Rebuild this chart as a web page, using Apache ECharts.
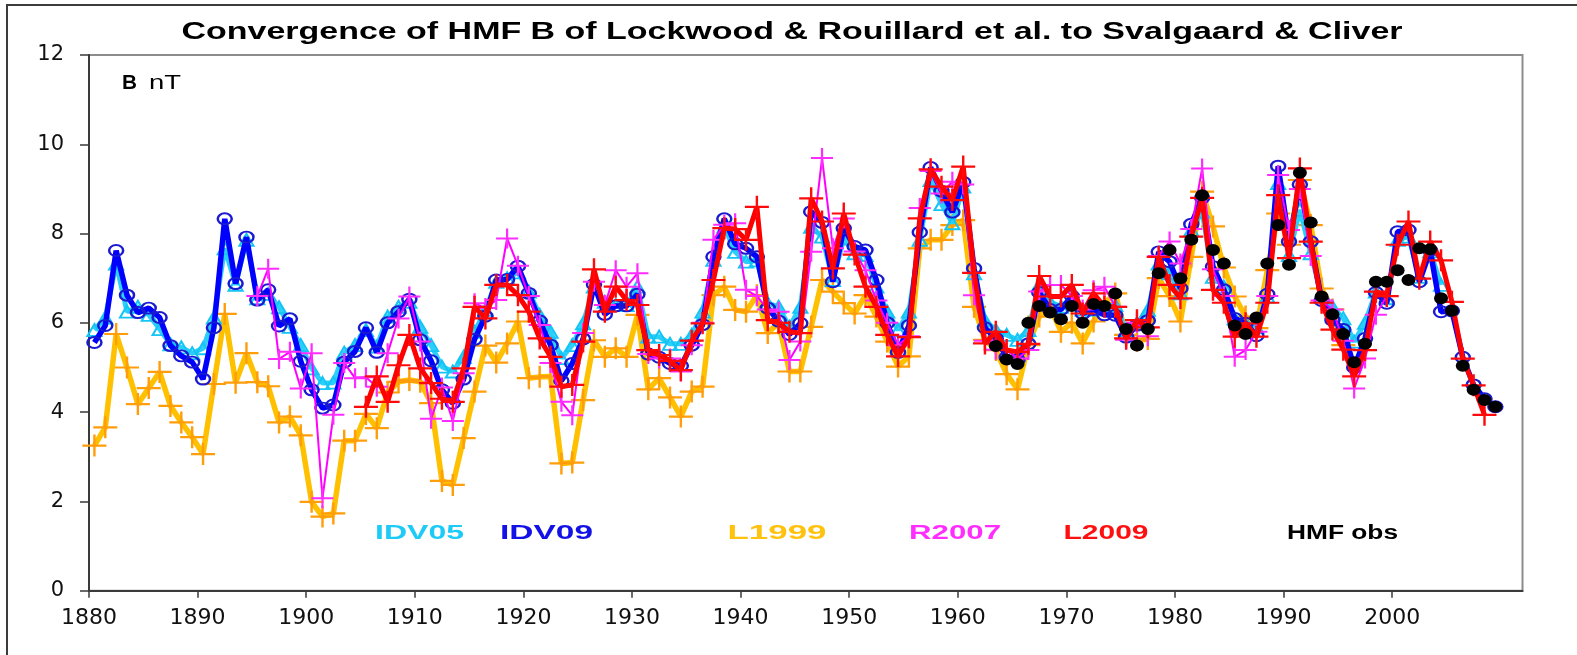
<!DOCTYPE html>
<html><head><meta charset="utf-8">
<script src="https://cdn.jsdelivr.net/npm/echarts@6/dist/echarts.min.js"></script>
<style>html,body{margin:0;padding:0;background:#fff;overflow:hidden}#c{width:1577px;height:655px}</style>
</head><body><div id="c"></div>
<script>
// ---- tick labels ----
const xTicks = [1880,1890,1900,1910,1920,1930,1940,1950,1960,1970,1980,1990,2000,2010];
const yTicks = [0,2,4,6,8,10,12];

// ---- series (annual means, plotted at mid-year) ----
const idv05Start = 1880;
const idv05 = [5.84,6.12,7.33,6.25,6.36,6.18,5.86,5.52,5.45,5.32,
  5.43,6.12,7.67,6.85,7.86,6.55,6.65,6.35,5.91,5.50,
  4.98,4.65,4.66,5.33,5.50,5.84,5.47,6.14,6.36,6.47,
  5.91,5.50,5.02,4.91,5.24,5.80,6.29,6.92,7.00,7.13,
  6.70,6.18,5.80,5.21,5.50,5.99,6.81,6.47,6.40,6.40,
  6.81,5.69,5.69,5.53,5.53,5.73,6.25,7.41,8.15,7.59,
  7.37,7.40,6.44,6.36,5.91,6.36,8.15,7.93,6.96,7.89,
  7.56,7.52,6.81,6.25,5.84,6.25,7.86,9.20,8.66,8.23,
  9.05,7.11,6.06,5.84,5.73,5.62,5.84,6.85,6.47,6.36,
  6.55,6.30,6.30,6.36,6.40,5.84,5.99,6.29,7.33,7.11,
  6.66,8.08,8.49,7.03,6.81,6.10,6.00,5.90,6.59,9.13,
  7.52,8.53,7.56,6.59,6.36,6.10,5.58,6.00,6.70,6.55,
  7.86,7.93,7.03,7.60,6.85];

const idv09Start = 1880;
const idv09 = [5.56,5.94,7.62,6.62,6.23,6.33,6.12,5.49,5.26,5.12,
  4.74,5.89,8.33,6.88,7.92,6.51,6.74,5.93,6.09,5.14,
  4.50,4.09,4.16,5.12,5.36,5.89,5.34,6.00,6.25,6.53,
  5.62,5.15,4.50,4.20,4.74,5.63,6.15,6.96,6.97,7.27,
  6.66,6.04,5.50,4.70,5.09,5.64,6.86,6.19,6.38,6.38,
  6.64,5.30,5.23,5.09,5.04,5.50,5.96,7.48,8.33,7.77,
  7.67,7.48,6.33,6.04,5.74,5.99,8.49,8.25,6.92,8.12,
  7.71,7.63,6.96,6.00,5.34,5.94,8.03,9.48,8.95,8.48,
  9.15,7.22,5.89,5.65,5.23,5.17,5.53,6.68,6.30,6.30,
  6.60,6.21,6.30,6.18,6.17,5.68,5.95,6.05,7.59,7.37,
  6.77,8.21,8.80,7.26,6.74,6.10,5.99,5.71,6.64,9.51,
  7.82,9.10,7.82,6.50,6.06,5.85,5.00,5.65,6.68,6.44,
  8.04,8.08,6.92,7.62,6.25,6.27,5.23,4.61,4.30,4.12];

const l1999Start = 1880;
const l1999 = [3.25,3.66,5.75,5.00,4.18,4.54,4.90,4.14,3.77,3.44,
  3.06,4.63,6.20,4.66,5.32,4.67,4.58,3.77,3.90,3.48,
  1.99,1.66,1.73,3.36,3.36,3.96,3.64,4.44,4.68,4.72,
  4.68,4.20,2.46,2.37,3.42,4.46,5.49,5.11,5.54,6.03,
  4.76,4.79,4.80,2.85,2.87,4.27,5.61,5.24,5.43,5.24,
  6.18,4.51,4.76,4.33,3.90,4.46,4.57,6.62,6.81,6.29,
  6.25,6.62,5.77,6.00,4.91,4.91,5.91,6.96,6.70,6.44,
  6.21,6.62,6.14,5.58,5.02,5.25,7.67,7.86,7.86,8.19,
  8.30,6.36,5.62,5.39,4.85,4.51,5.50,6.14,6.36,5.80,
  6.00,5.54,6.03,6.44,6.66,5.73,5.60,5.64,7.00,6.60,
  6.03,7.48,8.94,8.16,7.24,6.59,6.14,5.88,7.18,8.45,
  7.75,9.20,8.19,6.77,6.30,5.50];

const r2007Start = 1895;
const r2007 = [6.60,7.21,5.19,5.35,4.53,
  5.32,2.07,3.94,5.10,4.76,4.78,4.57,5.32,6.10,6.59,
  5.58,3.85,4.55,3.80,4.87,6.44,6.33,6.51,7.89,7.28,
  6.60,5.95,5.10,4.23,3.93,5.77,6.92,6.40,7.18,6.81,
  7.11,5.30,5.20,5.20,4.91,5.50,6.00,7.86,8.20,8.23,
  6.74,6.60,6.30,6.25,5.17,5.58,7.59,9.69,7.67,8.34,
  7.60,7.18,6.50,6.00,5.50,5.70,8.57,9.40,8.90,9.16,
  9.10,6.62,5.60,5.40,5.39,5.20,5.39,6.70,6.85,6.85,
  6.60,6.30,6.73,6.81,6.36,5.62,6.00,5.70,7.50,7.82,
  7.33,8.10,9.46,7.20,6.60,5.24,5.39,5.80,6.60,9.31,
  8.08,9.00,7.50,6.50,6.30,5.60,4.53,5.20,6.18,6.60];

const l2009Start = 1905;
const l2009 = [4.12,4.80,4.23,5.05,5.73,
  4.98,4.65,4.30,4.23,4.98,6.36,6.10,6.85,6.85,6.62,
  6.25,5.65,5.24,4.57,4.61,5.58,7.20,6.25,6.81,6.51,
  6.40,5.39,5.28,5.15,4.94,5.60,5.99,6.96,8.12,8.10,
  7.86,8.60,6.06,6.00,5.80,5.77,8.79,8.27,7.22,8.45,
  7.53,6.81,6.36,5.73,5.25,5.68,8.34,9.44,9.05,8.75,
  9.50,7.12,5.54,5.80,5.39,5.35,5.53,7.05,6.59,6.59,
  6.85,6.21,6.66,6.36,6.36,5.65,6.06,5.90,7.48,6.85,
  6.55,7.93,8.80,6.74,6.45,5.69,5.99,5.69,6.45,8.86,
  7.45,9.46,7.82,6.45,5.85,5.40,4.80,5.39,6.70,6.60,
  7.75,8.27,6.99,7.82,7.40,6.47,5.20,4.60,3.94];

const hmfStart = 1963;
const hmfObs = [5.48,5.18,5.08,6.00,6.38,6.23,6.08,
  6.38,6.00,6.42,6.38,6.66,5.86,5.49,5.86,7.11,7.63,
  7.00,7.86,8.86,7.63,7.33,5.94,5.75,6.12,7.33,8.19,
  7.30,9.36,8.25,6.59,6.19,5.75,5.12,5.53,6.92,6.92,
  7.18,6.96,7.67,7.65,6.55,6.27,5.04,4.50,4.27,4.12];

const labels = ['IDV05','IDV09','L1999','R2007','L2009','HMF obs'];
const titleText = 'Convergence of HMF B of Lockwood & Rouillard et al. to Svalgaard & Cliver';

function pairs(start, vals){ return vals.map((v,i)=>[start+i+0.5, v]); }

const PLUS = 'path://M0,45L100,45L100,55L0,55Z M45,0L55,0L55,100L45,100Z';
const mctx = document.createElement('canvas').getContext('2d');
function fitScale(text, font, width){ mctx.font = font; return width / mctx.measureText(text).width; }

const TF = 'bold 24px "Liberation Sans"';
const LF = 'bold 20px "Liberation Sans"';
function label(text, cx, cy, width, color, font){
  font = font || LF;
  return {type:'text', x:cx, y:cy, scaleX: fitScale(text, font, width), silent:true, z:50,
    style:{text:text, font:font, fill:color, align:'center', verticalAlign:'middle'}};
}

const chart = echarts.init(document.getElementById('c'), null, {renderer:'canvas'});
chart.setOption({
  animation:false,
  backgroundColor:'#fff',
  grid:{left:89, top:55, width:1433.5, height:535.7, show:true, borderColor:'#8c8c8c', borderWidth:2, backgroundColor:'transparent'},
  xAxis:{type:'value', min:1880, max:2012, interval:10,
    axisLine:{show:true, onZero:false, lineStyle:{color:'#3a3a3a', width:2}},
    axisTick:{show:true, length:7, customValues:xTicks, lineStyle:{color:'#3a3a3a', width:1.5}},
    axisLabel:{customValues:xTicks, showMaxLabel:false, margin:17, fontFamily:'DejaVu Sans', fontSize:22, color:'#111',
      formatter: v => String(v)},
    splitLine:{show:false}},
  yAxis:{type:'value', min:0, max:12, interval:2,
    axisLine:{show:true, lineStyle:{color:'#3a3a3a', width:2}},
    axisTick:{show:true, length:9, lineStyle:{color:'#3a3a3a', width:1.5}},
    axisLabel:{margin:25, fontFamily:'DejaVu Sans', fontSize:21, color:'#111', formatter: v => String(v)},
    splitLine:{show:false}},
  graphic:[
    {type:'rect', shape:{x:7, y:5, width:1640, height:700}, silent:true, z:-10,
      style:{fill:'none', stroke:'#3c3c3c', lineWidth:2}},
    label(titleText, 792, 32, 1221, '#000', TF),
    {type:'text', x:122, y:83, scaleX: fitScale('B','bold 20px "Liberation Sans"',15), silent:true, z:50,
      style:{text:'B', font:'bold 20px "Liberation Sans"', fill:'#000', align:'left', verticalAlign:'middle'}},
    {type:'text', x:149, y:83, scaleX: fitScale('nT','20px "Liberation Sans"',32), silent:true, z:50,
      style:{text:'nT', font:'20px "Liberation Sans"', fill:'#000', align:'left', verticalAlign:'middle'}},
    label(labels[0], 419.5, 533.5, 89, '#1ecbf7'),
    label(labels[1], 546.5, 533.5, 93, '#1212e6'),
    label(labels[2], 777, 533.5, 99, '#ffc20e'),
    label(labels[3], 955, 533.5, 92, '#ff2eff'),
    label(labels[4], 1106, 533.5, 85, '#ff1010'),
    label(labels[5], 1342.5, 533.5, 111, '#000')
  ],
  series:[
    {name:labels[2], type:'line', z:2, data:pairs(l1999Start,l1999), symbol:PLUS, symbolSize:[24,22],
      lineStyle:{color:'#ffc000', width:5.5}, itemStyle:{color:'#ff9d0a'}, showAllSymbol:true},
    {name:labels[0], type:'line', z:3, data:pairs(idv05Start,idv05), symbol:'triangle', symbolSize:[14,12],
      lineStyle:{color:'#2bd0fa', width:5}, itemStyle:{color:'rgba(0,0,0,0)', borderColor:'#14c4f4', borderWidth:2}, showAllSymbol:true},
    {name:labels[1], type:'line', z:4, data:pairs(idv09Start,idv09), symbol:'circle', symbolSize:[14,11],
      lineStyle:{color:'#0000ff', width:5.5}, itemStyle:{color:'rgba(0,0,0,0)', borderColor:'#1a1ad0', borderWidth:2.2}, showAllSymbol:true},
    {name:labels[3], type:'line', z:5, data:pairs(r2007Start,r2007), symbol:PLUS, symbolSize:[22,20],
      lineStyle:{color:'#ff00ff', width:2}, itemStyle:{color:'#ff2cff'}, showAllSymbol:true},
    {name:labels[4], type:'line', z:6, data:pairs(l2009Start,l2009), symbol:PLUS, symbolSize:[24,22],
      lineStyle:{color:'#ff0000', width:5}, itemStyle:{color:'#ff0a0a'}, showAllSymbol:true},
    {name:labels[5], type:'scatter', z:10, data:pairs(hmfStart,hmfObs), symbol:'circle', symbolSize:[14,12],
      itemStyle:{color:'#000', opacity:1}}
  ]
});
</script></body></html>
